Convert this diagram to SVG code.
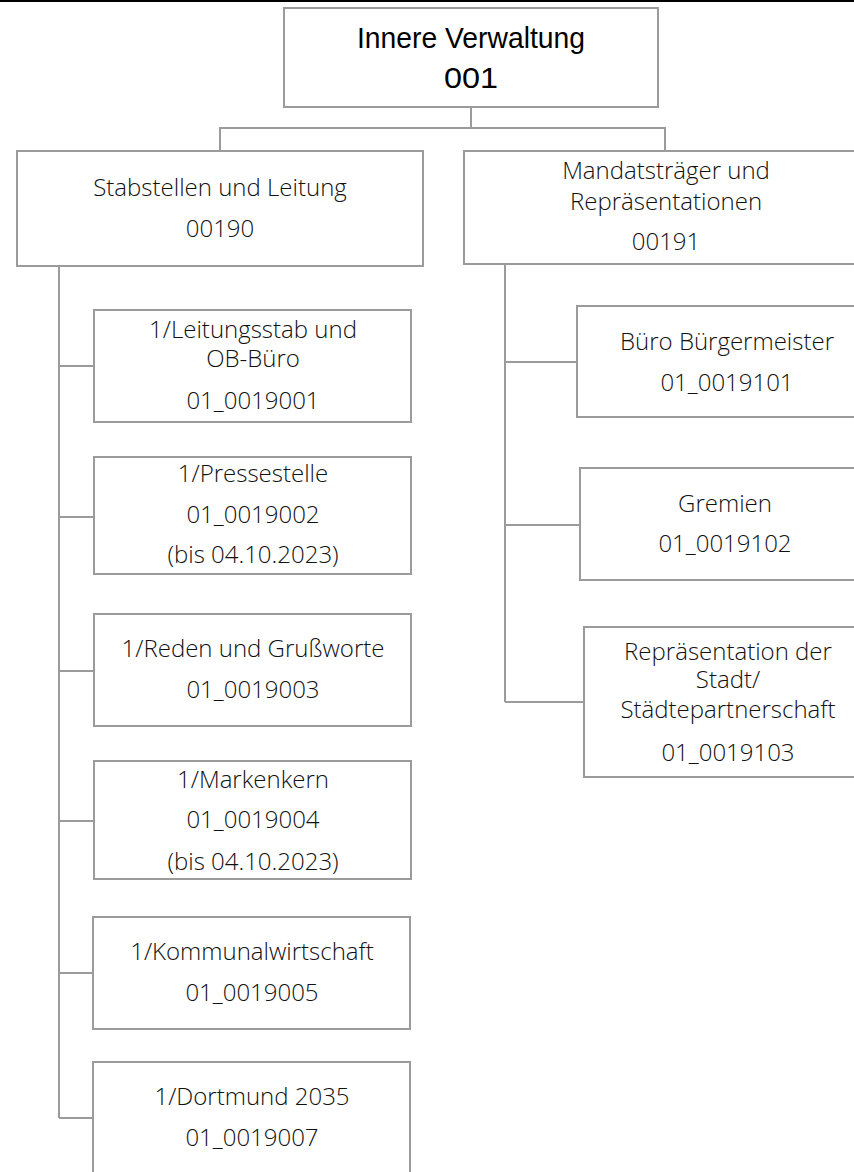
<svg xmlns="http://www.w3.org/2000/svg" width="854" height="1172" viewBox="0 0 854 1172">
<style>
.box{fill:#fff;stroke:#9b9b9b;stroke-width:2}
.con{fill:none;stroke:#9b9b9b;stroke-width:2}
text{font-family:"Open Sans","Noto Sans",sans-serif;font-size:24px;font-weight:300;fill:#111;text-anchor:middle}
.title{font-family:"Liberation Sans",Arial,sans-serif;font-size:30px;font-weight:400;fill:#000}
</style>
<rect x="0" y="0" width="854" height="2" fill="#000"/>
<g id="connectors">
<path class="con" d="M471 107V128M220 151V128H665V151"/>
<path class="con" d="M59 266V1118M59 366H94M59 517H94M59 671H94M59 821H94M59 973H93M59 1118H93"/>
<path class="con" d="M505 264V702M505 362H577M505 525H580M505 702H584"/>
</g>
<g id="n001">
<rect class="box" x="284" y="8" width="374" height="99"/>
<text class="title" x="471" y="48" textLength="228" lengthAdjust="spacingAndGlyphs">Innere Verwaltung</text>
<text class="title" x="471" y="88" textLength="54" lengthAdjust="spacingAndGlyphs">001</text>
</g>
<g id="n00190">
<rect class="box" x="17" y="151" width="406" height="115"/>
<text x="220" y="196">Stabstellen und Leitung</text>
<text x="220" y="237">00190</text>
</g>
<g id="n00191">
<rect class="box" x="464" y="151" width="400" height="113"/>
<text x="666" y="179">Mandatsträger und</text>
<text x="666" y="210">Repräsentationen</text>
<text x="666" y="250">00191</text>
</g>
<g id="n0019001">
<rect class="box" x="94" y="310" width="317" height="112"/>
<text x="253" y="338">1/Leitungsstab und</text>
<text x="253" y="367">OB-Büro</text>
<text x="253" y="409">01_0019001</text>
</g>
<g id="n0019002">
<rect class="box" x="94" y="457" width="317" height="117"/>
<text x="253" y="482">1/Pressestelle</text>
<text x="253" y="523">01_0019002</text>
<text x="253" y="563">(bis 04.10.2023)</text>
</g>
<g id="n0019003">
<rect class="box" x="94" y="614" width="317" height="112"/>
<text x="253" y="657">1/Reden und Grußworte</text>
<text x="253" y="698">01_0019003</text>
</g>
<g id="n0019004">
<rect class="box" x="94" y="761" width="317" height="118"/>
<text x="253" y="788">1/Markenkern</text>
<text x="253" y="828">01_0019004</text>
<text x="253" y="870">(bis 04.10.2023)</text>
</g>
<g id="n0019005">
<rect class="box" x="93" y="917" width="317" height="112"/>
<text x="252" y="960">1/Kommunalwirtschaft</text>
<text x="252" y="1001">01_0019005</text>
</g>
<g id="n0019007">
<rect class="box" x="93" y="1062" width="317" height="130"/>
<text x="252" y="1105">1/Dortmund 2035</text>
<text x="252" y="1146">01_0019007</text>
</g>
<g id="n0019101">
<rect class="box" x="577" y="306" width="300" height="111"/>
<text x="727" y="350">Büro Bürgermeister</text>
<text x="727" y="391">01_0019101</text>
</g>
<g id="n0019102">
<rect class="box" x="580" y="468" width="300" height="112"/>
<text x="725" y="512">Gremien</text>
<text x="725" y="552">01_0019102</text>
</g>
<g id="n0019103">
<rect class="box" x="584" y="627" width="300" height="150"/>
<text x="728" y="660">Repräsentation der</text>
<text x="728" y="688">Stadt/</text>
<text x="728" y="718">Städtepartnerschaft</text>
<text x="728" y="761">01_0019103</text>
</g>
</svg>
